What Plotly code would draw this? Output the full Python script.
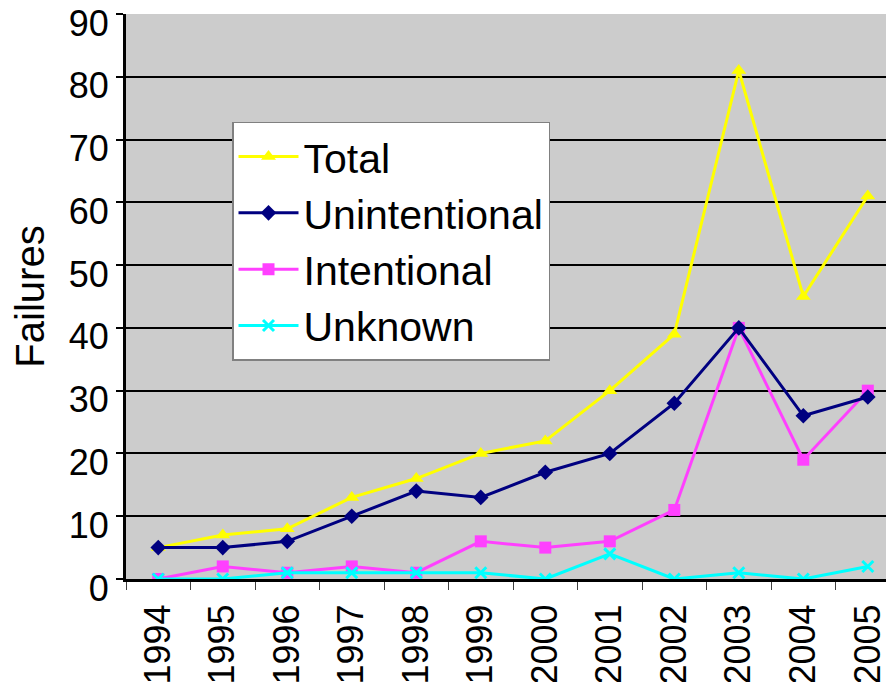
import plotly.graph_objects as go

years = ["1994", "1995", "1996", "1997", "1998", "1999", "2000", "2001", "2002", "2003", "2004", "2005"]
total = [5, 7, 8, 13, 16, 20, 22, 30, 39, 81, 45, 61]
unintentional = [5, 5, 6, 10, 14, 13, 17, 20, 28, 40, 26, 29]
intentional = [0, 2, 1, 2, 1, 6, 5, 6, 11, 40, 19, 30]
unknown = [0, 0, 1, 1, 1, 1, 0, 4, 0, 1, 0, 2]
y_ticks = [0, 10, 20, 30, 40, 50, 60, 70, 80, 90]

FONT = "Liberation Sans, Arial, sans-serif"

fig = go.Figure()
fig.add_trace(go.Scatter(
    x=years, y=total, name="Total", mode="lines+markers", legendrank=1,
    line=dict(color="#FFFF00", width=3),
    marker=dict(symbol="triangle-up", size=13, color="#FFFF00"),
))
fig.add_trace(go.Scatter(
    x=years, y=intentional, name="Intentional", mode="lines+markers", legendrank=3,
    line=dict(color="#FF40FF", width=3),
    marker=dict(symbol="square", size=12, color="#FF40FF"),
))
fig.add_trace(go.Scatter(
    x=years, y=unintentional, name="Unintentional", mode="lines+markers", legendrank=2,
    line=dict(color="#000080", width=3),
    marker=dict(symbol="diamond", size=12, color="#000080"),
))
fig.add_trace(go.Scatter(
    x=years, y=unknown, name="Unknown", mode="lines+markers", legendrank=4,
    line=dict(color="#00FFFF", width=3),
    marker=dict(symbol="x-thin", size=11, color="#00FFFF",
                line=dict(color="#00FFFF", width=3)),
))

fig.update_layout(
    width=894, height=682,
    margin=dict(l=118, r=0, t=6, b=111),
    paper_bgcolor="white",
    plot_bgcolor="#CCCCCC",
    font=dict(family=FONT, color="black", size=36),
    showlegend=True,
    legend=dict(
        x=0.1366, y=0.809, xanchor="left", yanchor="top",
        bgcolor="white", bordercolor="#808080", borderwidth=1.5,
        font=dict(family=FONT, size=41, color="black"),
        tracegroupgap=0, itemwidth=60,
    ),
    xaxis=dict(
        type="category",
        range=[-0.5, 11.53],
        tickson="boundaries",
        ticks="outside", ticklen=8, tickwidth=1, tickcolor="#404040",
        tickangle=-90,
        ticklabelstandoff=8,
        tickfont=dict(size=36, family=FONT),
        showline=True, linecolor="black", linewidth=3,
        showgrid=False, zeroline=False,
        automargin=False,
    ),
    yaxis=dict(
        range=[0, 90],
        tickvals=y_ticks,
        ticks="outside", ticklen=7, tickwidth=2, tickcolor="black",
        ticklabelstandoff=0,
        ticklabelshift=9,
        ticklabeloverflow="allow",
        tickfont=dict(size=36, family=FONT),
        showline=True, linecolor="black", linewidth=3,
        showgrid=True, gridcolor="black", gridwidth=2,
        zeroline=False,
        automargin=False,
        title=dict(text="Failures", font=dict(size=40, family=FONT), standoff=22),
    ),
)

fig.write_html("out.html")
